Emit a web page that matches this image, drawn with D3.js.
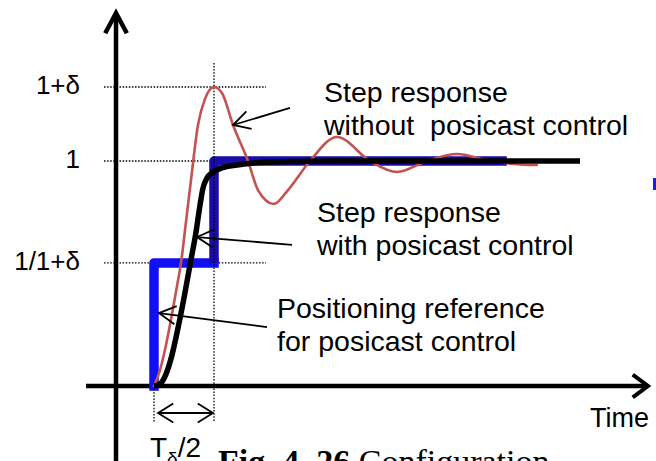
<!DOCTYPE html>
<html>
<head>
<meta charset="utf-8">
<script src="https://cdn.jsdelivr.net/npm/d3@7"></script>
<style>
  html, body { margin: 0; padding: 0; background: #fff; }
  svg { display: block; font-family: "Liberation Sans", Arial, sans-serif; }
</style>
</head>
<body>
<svg id="chart" width="656" height="461"></svg>
<script>
// Output levels marked on the vertical axis
const levelValues = [1.329, 1, 0.547];
const levelLabels = ["1+δ", "1", "1/1+δ"];

// Time is measured in units of Tδ/2
// Positioning reference for posicast control (two-step command)
const refLowTime   = [0, 0, 1];
const refLowValue  = [0, 0.547, 0.547];
const refHighTime  = [1, 1, 5.88];
const refHighValue = [0.547, 1, 1];

// Step response without posicast control
const freeTime  = [0, 0.1, 0.2, 0.3, 0.383, 0.45, 0.533, 0.617, 0.733, 0.85, 1.0, 1.133, 1.317, 1.567, 1.733, 2.0, 2.233, 2.6, 3.05, 3.6, 4.05, 4.55, 5.05, 5.55, 5.98, 6.38];
const freeValue = [0, 0.071, 0.182, 0.32, 0.444, 0.547, 0.729, 0.916, 1.16, 1.276, 1.329, 1.302, 1.16, 1.0, 0.871, 0.809, 0.871, 1.0, 1.107, 1.0, 0.951, 1.0, 1.031, 1.004, 0.987, 0.982];

// Step response with posicast control
const shapedTime  = [0, 0.1, 0.2, 0.3, 0.4, 0.5, 0.6, 0.7, 0.767, 0.817, 0.883, 0.983, 1.133, 1.383, 1.767, 2.433, 2.933, 7.1];
const shapedValue = [0, 0.009, 0.053, 0.138, 0.258, 0.391, 0.538, 0.684, 0.804, 0.88, 0.924, 0.951, 0.969, 0.982, 0.993, 0.998, 1.0, 1.0];

// Callouts: text anchor and pointer (from -> tip), in time/value units
const noteLines = [
  ["Step response", "without  posicast control"],
  ["Step response", "with posicast control"],
  ["Positioning reference", "for posicast control"]
];
const noteAnchorTime  = [2.833, 2.717, 2.05];
const noteAnchorValue = [1.262, 0.729, 0.302];
const pointerFrom = [[2.267, 1.236], [2.3, 0.627], [1.883, 0.262]];
const pointerTip  = [[1.317, 1.16], [0.717, 0.662], [0.083, 0.324]];

const svg = d3.select("#chart");

const x = d3.scaleLinear().domain([0, 8]).range([154, 634]);
const y = d3.scaleLinear().domain([0, 1]).range([386, 161]);

const zip = (ts, vs) => ts.map((t, i) => [t, vs[i]]);

// V-shaped open arrowhead at `tip`, opening back toward `from`
function headPath(tip, from, len, ang) {
  const dir = Math.atan2(from[1] - tip[1], from[0] - tip[0]);
  const a = [tip[0] + len * Math.cos(dir + ang), tip[1] + len * Math.sin(dir + ang)];
  const b = [tip[0] + len * Math.cos(dir - ang), tip[1] + len * Math.sin(dir - ang)];
  return `M${a[0]},${a[1]}L${tip[0]},${tip[1]}L${b[0]},${b[1]}`;
}

// ---- Axes drawn as arrows ----
const axisG = svg.append("g").attr("stroke", "#000").attr("fill", "none");
const yAxisX = x(-0.633), yAxisTop = y(1.658), yAxisBottom = 461;
axisG.append("line").attr("x1", yAxisX).attr("x2", yAxisX)
  .attr("y1", yAxisBottom).attr("y2", yAxisTop + 2).attr("stroke-width", 4.5);
axisG.append("path").attr("d", headPath([yAxisX, yAxisTop], [yAxisX, yAxisTop + 50], 23, 0.49))
  .attr("stroke-width", 4.5).attr("stroke-linejoin", "miter");

const xAxisLeft = x(-1.133), xAxisRight = x(8.233), xAxisY = y(0);
axisG.append("line").attr("x1", xAxisLeft).attr("x2", xAxisRight - 2)
  .attr("y1", xAxisY).attr("y2", xAxisY).attr("stroke-width", 4.5);
axisG.append("path").attr("d", headPath([xAxisRight, xAxisY], [xAxisRight - 50, xAxisY], 19, 0.64))
  .attr("stroke-width", 4).attr("stroke-linejoin", "miter");

// ---- Level tick labels ----
const yAxis = d3.axisLeft(y)
  .tickValues(levelValues)
  .tickFormat((d, i) => levelLabels[i])
  .tickSize(0)
  .tickPadding(0);
const yAxisG = svg.append("g").attr("transform", "translate(80,0)").call(yAxis);
yAxisG.select(".domain").remove();
yAxisG.selectAll("text")
  .attr("dy", "0.25em")
  .attr("fill", "#000")
  .style("font-size", "26px")
  .style("font-family", "'Liberation Sans', Arial, sans-serif");

// ---- Horizontal dotted guides (under the reference) ----
const dotted = { stroke: "#000", width: 1.3, dash: "1.5,1.6" };
svg.append("g").selectAll("line").data(levelValues).join("line")
  .attr("x1", x(-0.833)).attr("x2", x(1.867))
  .attr("y1", d => y(d)).attr("y2", d => y(d))
  .attr("stroke", dotted.stroke).attr("stroke-width", dotted.width)
  .attr("stroke-dasharray", dotted.dash);

// ---- Positioning reference ----
const line = d3.line().x(d => x(d[0])).y(d => y(d[1]));
svg.append("path").attr("d", line(zip(refLowTime, refLowValue)))
  .attr("fill", "none").attr("stroke", "#1010f2").attr("stroke-width", 9.5)
  .attr("stroke-linecap", "square").attr("stroke-linejoin", "round");
svg.append("path").attr("d", line(zip(refHighTime, refHighValue)))
  .attr("fill", "none").attr("stroke", "#1a0ca8").attr("stroke-width", 9.5)
  .attr("stroke-linecap", "butt").attr("stroke-linejoin", "round");

// ---- Vertical dotted guides at t = 0 and t = Tδ/2 ----
svg.append("line").attr("x1", x(1)).attr("x2", x(1))
  .attr("y1", y(1.436)).attr("y2", y(-0.16))
  .attr("stroke", dotted.stroke).attr("stroke-width", dotted.width)
  .attr("stroke-dasharray", dotted.dash);
svg.append("line").attr("x1", x(0)).attr("x2", x(0))
  .attr("y1", y(0)).attr("y2", y(-0.16))
  .attr("stroke", dotted.stroke).attr("stroke-width", dotted.width)
  .attr("stroke-dasharray", dotted.dash);

// ---- Responses ----
const curve = d3.line().x(d => x(d[0])).y(d => y(d[1])).curve(d3.curveMonotoneX);
svg.append("path").attr("d", curve(zip(freeTime, freeValue)))
  .attr("fill", "none").attr("stroke", "#c4524f").attr("stroke-width", 2.6)
  .attr("stroke-linecap", "round");
svg.append("path").attr("d", curve(zip(shapedTime, shapedValue)))
  .attr("fill", "none").attr("stroke", "#000").attr("stroke-width", 5.5)
  .attr("stroke-linecap", "butt");

// ---- Callout pointers ----
const ptrG = svg.append("g").attr("stroke", "#000").attr("fill", "none").attr("stroke-width", 1.8);
pointerFrom.forEach((f, i) => {
  const from = [x(f[0]), y(f[1])];
  const tip = [x(pointerTip[i][0]), y(pointerTip[i][1])];
  ptrG.append("line").attr("x1", from[0]).attr("y1", from[1]).attr("x2", tip[0]).attr("y2", tip[1]);
  ptrG.append("path").attr("d", headPath(tip, from, 19, 0.5));
});

// Double-headed span marker for Tδ/2
const spanV = -0.12;
const sa = [x(0.067), y(spanV)], sb = [x(0.983), y(spanV)];
ptrG.append("line").attr("x1", sa[0]).attr("y1", sa[1]).attr("x2", sb[0]).attr("y2", sb[1]);
ptrG.append("path").attr("d", headPath(sa, sb, 18, 0.56));
ptrG.append("path").attr("d", headPath(sb, sa, 18, 0.56));

// ---- Callout text ----
noteLines.forEach((lines, i) => {
  const t = svg.append("text")
    .attr("x", x(noteAnchorTime[i])).attr("y", y(noteAnchorValue[i]))
    .style("font-size", "28.5px").style("white-space", "pre").attr("fill", "#000");
  lines.forEach((s, j) => {
    t.append("tspan").attr("x", x(noteAnchorTime[i])).attr("dy", j === 0 ? 0 : 33).text(s);
  });
});

// Axis names
svg.append("text").attr("x", x(7.267)).attr("y", y(-0.182))
  .style("font-size", "27px").attr("fill", "#000").text("Time");

const tl = svg.append("text").attr("x", x(-0.067)).attr("y", y(-0.316))
  .style("font-size", "28px").attr("fill", "#000");
tl.append("tspan").text("T");
tl.append("tspan").attr("dy", 8).style("font-size", "19px").text("δ");
tl.append("tspan").attr("dy", -8).text("/2");

// Figure caption
const cap = svg.append("text").attr("x", 218).attr("y", 473)
  .style("font-family", "'Liberation Serif', 'Times New Roman', serif")
  .style("font-size", "34px").style("white-space", "pre").attr("fill", "#000");
cap.append("tspan").style("font-weight", "bold").text("Fig. 4. 26");
cap.append("tspan").text(" Configuration");

// Edge of the neighbouring panel's marker
svg.append("rect").attr("x", 653).attr("y", 178).attr("width", 4).attr("height", 12)
  .attr("fill", "#1a1aff");
</script>
</body>
</html>
